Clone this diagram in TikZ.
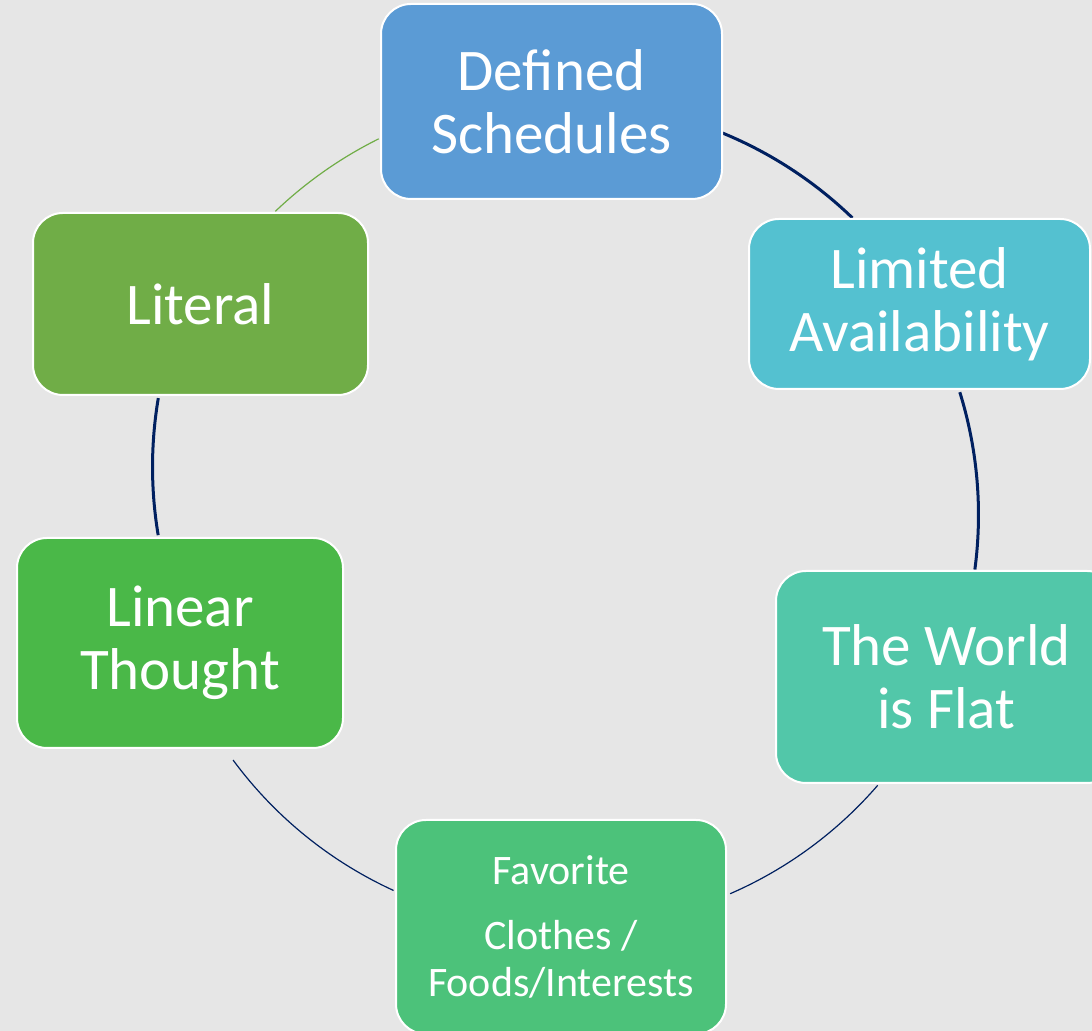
\documentclass[tikz,border=0pt]{standalone}
\usepackage{fontspec}
\setmainfont{Carlito}
\usepackage{xcolor}
\definecolor{bggray}{RGB}{230,230,230}
\definecolor{navy}{RGB}{0,32,96}
\definecolor{schedblue}{RGB}{91,155,213}
\definecolor{availcyan}{RGB}{84,193,208}
\definecolor{flatteal}{RGB}{82,199,169}
\definecolor{favgreen}{RGB}{76,194,122}
\definecolor{lineargreen}{RGB}{74,184,72}
\definecolor{literalgreen}{RGB}{112,173,71}
\newcommand{\bigtext}{\fontsize{29.5}{31.5}\selectfont}
\newcommand{\smalltext}{\fontsize{21}{23.5}\selectfont}
\newcommand{\drawstep}{\node[stepbox]}
\newcommand{\arcthick}{\draw[line width=1.5pt, color=navy]}
\newcommand{\arcthin}{\draw[line width=0.6pt, color=navy]}
\newcommand{\arcgreen}{\draw[line width=0.6pt, color=literalgreen]}
\newcommand{\ringr}{413}
\tikzset{stepbox/.style={draw=white, line width=1pt, rounded corners=15pt,
  text=white, align=center, inner sep=0pt, font=\bigtext}}

\begin{document}
\begin{tikzpicture}[x=0.5pt, y=0.5pt]
%background and page size
\fill[bggray] (0,0) rectangle (1092,1031);
\useasboundingbox (0,0) rectangle (1092,1031);
\coordinate (ring) at (565.5,516);
\coordinate (ringleft) at (565.5,564);

%ring arcs (drawn first, boxes sit on top)
\arcthick ([shift={(67.7:\ringr)}]ring) arc[start angle=67.7, end angle=46, radius=\ringr];
\arcthick ([shift={(17.3:\ringr)}]ring) arc[start angle=17.3, end angle=-7.6, radius=\ringr];
\arcthin ([shift={(-40.9:\ringr)}]ring) arc[start angle=-40.9, end angle=-66.5, radius=\ringr];
\arcthin ([shift={(-114.6:\ringr)}]ring) arc[start angle=-114.6, end angle=-143.6, radius=\ringr];
\arcthick ([shift={(189.5:\ringr)}]ringleft) arc[start angle=189.5, end angle=170.4, radius=\ringr];
\arcgreen ([shift={(133.7:420)}]ring) arc[start angle=133.7, end angle=116.4, radius=420];

%the six steps
\drawstep[fill=schedblue, minimum width=170.5pt, minimum height=97.5pt] (sched) at (551.5,929.5) {Defined\\Schedules};
\drawstep[fill=availcyan, minimum width=170.5pt, minimum height=85pt] (avail) at (919.5,727) {Limited\\Availability};
\drawstep[fill=flatteal, minimum width=170.5pt, minimum height=106pt] (flat) at (946.5,354) {The World\\is Flat};
\drawstep[fill=favgreen, minimum width=165pt, minimum height=107pt, font=\smalltext] (fav) at (561,104) {Favorite\\[9pt]Clothes /\\Foods/Interests};
\drawstep[fill=lineargreen, minimum width=163pt, minimum height=105pt] (linear) at (180,388) {Linear\\Thought};
\drawstep[fill=literalgreen, minimum width=167.5pt, minimum height=91pt] (literal) at (200.5,727) {Literal};
\end{tikzpicture}
\end{document}
